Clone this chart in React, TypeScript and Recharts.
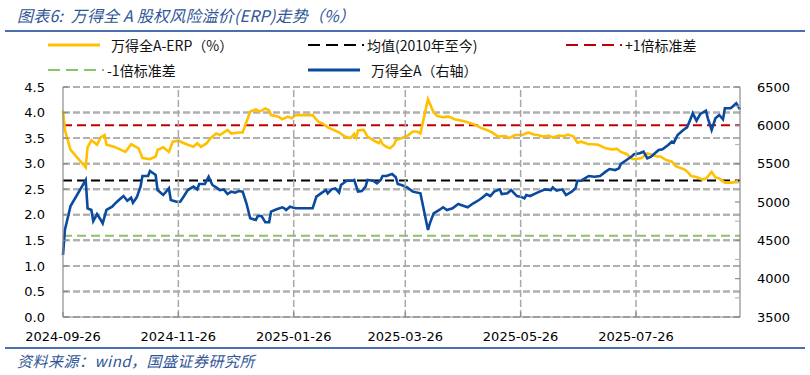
import React from "react"
import { LineChart, Line, XAxis, YAxis, CartesianGrid, ReferenceLine } from "recharts"

// day = calendar days since 2024-09-26 (trading days only)
const erpDays = [0, 1, 4, 12, 13, 15, 18, 20, 22, 23, 27, 29, 33, 36, 40, 42, 46, 49, 50, 53, 56, 58, 61, 64, 66, 69, 71, 73, 76, 78, 81, 83, 87, 89, 93, 95, 99, 102, 104, 107, 109, 110, 114, 116, 119, 121, 123, 132, 135, 138, 140, 143, 146, 149, 152, 154, 155, 156, 159, 161, 164, 167, 168, 169, 171, 173, 175, 176, 179, 182, 185, 187, 189, 193, 196, 198, 201, 204, 207, 211, 214, 218, 221, 224, 227, 230, 234, 236, 239, 243, 246, 249, 251, 254, 257, 259, 262, 265, 267, 270, 272, 274, 278, 280, 283, 287, 290, 293, 295, 298, 301, 303, 306, 309, 311, 314, 316, 319, 322, 324, 327, 329, 331, 332, 335, 338, 340, 343, 345, 347, 350, 354, 357]
const erpValues = [4.04, 3.66, 3.27, 2.93, 3.32, 3.46, 3.37, 3.52, 3.56, 3.37, 3.33, 3.3, 3.23, 3.38, 3.3, 3.11, 3.09, 3.14, 3.27, 3.32, 3.23, 3.43, 3.45, 3.4, 3.37, 3.33, 3.4, 3.33, 3.4, 3.5, 3.59, 3.56, 3.66, 3.59, 3.61, 3.61, 4.02, 4.06, 4.02, 4.08, 4.04, 3.95, 3.92, 3.87, 3.92, 3.89, 3.95, 3.95, 3.82, 3.77, 3.71, 3.66, 3.61, 3.53, 3.5, 3.58, 3.51, 3.65, 3.66, 3.53, 3.46, 3.4, 3.46, 3.38, 3.33, 3.3, 3.37, 3.46, 3.5, 3.54, 3.63, 3.63, 3.59, 4.26, 4.0, 3.93, 3.91, 3.92, 3.87, 3.84, 3.81, 3.76, 3.7, 3.66, 3.61, 3.53, 3.54, 3.5, 3.56, 3.56, 3.61, 3.57, 3.56, 3.53, 3.55, 3.51, 3.55, 3.54, 3.57, 3.53, 3.41, 3.43, 3.38, 3.38, 3.37, 3.3, 3.28, 3.29, 3.23, 3.19, 3.09, 3.09, 3.11, 3.2, 3.18, 3.14, 3.14, 3.07, 3.04, 2.95, 2.91, 2.88, 2.81, 2.76, 2.74, 2.69, 2.71, 2.84, 2.73, 2.71, 2.63, 2.63, 2.66]

const idxDays = [0, 1, 4, 12, 13, 15, 16, 18, 20, 21, 23, 26, 28, 30, 32, 34, 36, 37, 39, 41, 42, 45, 46, 49, 50, 53, 56, 57, 60, 62, 64, 66, 69, 71, 72, 75, 77, 79, 81, 83, 85, 87, 89, 91, 93, 95, 97, 99, 102, 103, 105, 107, 109, 110, 113, 116, 117, 118, 120, 123, 132, 134, 137, 139, 140, 142, 144, 146, 147, 150, 153, 154, 156, 158, 160, 161, 164, 166, 168, 169, 171, 174, 176, 177, 179, 182, 185, 189, 193, 194, 196, 199, 201, 203, 206, 209, 212, 214, 217, 220, 222, 224, 226, 228, 231, 232, 235, 237, 240, 242, 244, 245, 247, 250, 252, 255, 258, 259, 261, 264, 266, 269, 271, 272, 274, 276, 278, 281, 284, 287, 289, 292, 294, 295, 298, 301, 302, 305, 307, 309, 311, 313, 315, 317, 320, 322, 323, 325, 328, 330, 332, 333, 335, 337, 340, 341, 343, 345, 347, 349, 350, 353, 354, 356, 358]
const idxValues = [4309, 4635, 4948, 5287, 4918, 4896, 4752, 4843, 4765, 4722, 4896, 4939, 4991, 5035, 5078, 5017, 5056, 4991, 5061, 5200, 5339, 5339, 5404, 5352, 5156, 5091, 5178, 5026, 5004, 5004, 5078, 5156, 5200, 5165, 5235, 5235, 5330, 5222, 5191, 5156, 5165, 5104, 5135, 5122, 5143, 5135, 4983, 4787, 4765, 4817, 4817, 4735, 4735, 4874, 4905, 4931, 4918, 4896, 4939, 4918, 4918, 5070, 5122, 5156, 5113, 5165, 5178, 5122, 5222, 5278, 5278, 5287, 5135, 5143, 5200, 5287, 5278, 5243, 5287, 5339, 5339, 5365, 5322, 5235, 5222, 5191, 5135, 5113, 4635, 4722, 4852, 4896, 4931, 4896, 4918, 4974, 4948, 4931, 4983, 5026, 5061, 5104, 5078, 5135, 5165, 5104, 5113, 5156, 5078, 5070, 5048, 5091, 5078, 5113, 5135, 5165, 5156, 5191, 5148, 5165, 5091, 5135, 5178, 5278, 5278, 5309, 5339, 5330, 5339, 5396, 5430, 5417, 5439, 5496, 5548, 5600, 5622, 5635, 5656, 5570, 5591, 5635, 5678, 5687, 5743, 5787, 5774, 5874, 5939, 5974, 6091, 6157, 6061, 6148, 6191, 6091, 5939, 6091, 6135, 6078, 6222, 6222, 6243, 6287, 6209]

const erpMean = 2.67
const erpPlus1 = 3.75
const erpMinus1 = 1.59

const tickLabels = ["2024-09-26", "2024-11-26", "2025-01-26", "2025-03-26", "2025-05-26", "2025-07-26"]
const lastDate = "2025-09-19"
const leftTicks = [0, 0.5, 1, 1.5, 2, 2.5, 3, 3.5, 4, 4.5]
const rightTicks = [3500, 3750, 4000, 4250, 4500, 4750, 5000, 5250, 5500, 5750, 6000, 6250, 6500]

const BASE = Date.UTC(2024, 8, 26)
const dayOf = (s: string) => {
  const [y, m, d] = s.split("-").map(Number)
  return Math.round((Date.UTC(y, m - 1, d) - BASE) / 86400000)
}
const tickDays = tickLabels.map(dayOf)

type Row = { day: number; erp?: number; idx?: number }
const rowMap = new Map<number, Row>()
erpDays.forEach((d, i) => rowMap.set(d, { ...(rowMap.get(d) || { day: d }), erp: erpValues[i] }))
idxDays.forEach((d, i) => rowMap.set(d, { ...(rowMap.get(d) || { day: d }), idx: idxValues[i] }))
const data = [...rowMap.values()].sort((a, b) => a.day - b.day)

// layout
const W = 810
const H = 375
const MARGIN = { top: 87, right: 15, bottom: 28, left: 23 }
const LEFT_W = 40
const RIGHT_W = 55
const X_H = 30
const PLOT_H = H - MARGIN.top - MARGIN.bottom - X_H

const AXIS = "#8c8c8c"
const GRID = "#a8a8a8"
const TICK_FONT = { fontFamily: "'DejaVu Sans', sans-serif", fontSize: 13, fill: "#000" }
const CJK = "'Noto Sans CJK SC', 'Noto Sans', sans-serif"
const BLUE_TXT = "#2F5597"

const LeftTick = (p: any) => {
  const v = Number(p.payload.value)
  const ax = p.x + 18
  return (
    <g>
      <path d={`M${ax},${p.y}H${ax + 5}`} fill="none" stroke={AXIS} strokeWidth={1.2} />
      <text x={p.x} y={p.y} dy="0.355em" textAnchor="end" {...TICK_FONT}>
        {v.toFixed(1)}
      </text>
    </g>
  )
}

const RightTick = (p: any) => {
  const v = Number(p.payload.value)
  const major = v % 500 === 0
  const ax = p.x - 17
  return (
    <g>
      <path d={`M${ax - 5},${p.y}H${ax}`} fill="none" stroke={major ? AXIS : "#b5b5b5"} strokeWidth={1.2} />
      {major && (
        <text x={p.x} y={p.y} dy="0.355em" textAnchor="start" {...TICK_FONT}>
          {v}
        </text>
      )}
    </g>
  )
}

// date ticks also carry the vertical dashed grid
const BottomTick = (p: any) => {
  const d = Number(p.payload.value)
  const i = tickDays.indexOf(d)
  const ay = p.y - 15
  return (
    <g>
      {d > 0 && (
        <path d={`M${p.x},${ay}V${ay - PLOT_H}`} fill="none" stroke={GRID} strokeWidth={1.5} strokeDasharray="7 3" />
      )}
      <path d={`M${p.x},${ay}V${ay - 5}`} fill="none" stroke={AXIS} strokeWidth={1.2} />
      <text x={p.x} y={p.y} dy="0.71em" textAnchor="middle" {...TICK_FONT}>
        {i >= 0 ? tickLabels[i] : ""}
      </text>
    </g>
  )
}

const textNoTrim: any = { textSpacingTrim: "space-all" }

function LegendItem({ x, y, color, dash, label }: { x: number; y: number; color: string; dash?: boolean; label: string }) {
  return (
    <div style={{ position: "absolute", left: x, top: y - 10, height: 20, display: "flex", alignItems: "center" }}>
      <svg width={56} height={6} style={{ display: "block" }}>
        <line x1={0} x2={dash ? 56 : 52} y1={3} y2={3} stroke={color} strokeWidth={dash ? 2 : 3} strokeDasharray={dash ? "12 6" : undefined} />
      </svg>
      <span style={{ ...textNoTrim, marginLeft: dash ? 3 : 7, fontFamily: CJK, fontSize: 14, color: "#111", whiteSpace: "nowrap" }}>{label}</span>
    </div>
  )
}

export default function App() {
  return (
    <div style={{ position: "absolute", left: 0, top: 0, width: W, height: H, background: "#fff", overflow: "hidden" }}>
      <div
        style={{
          ...textNoTrim,
          position: "absolute",
          left: 17,
          top: 6,
          lineHeight: "18px",
          fontFamily: CJK,
          fontSize: 16,
          letterSpacing: 0.2,
          fontStyle: "italic",
          color: BLUE_TXT,
          whiteSpace: "nowrap",
        }}
      >
        图表6:&nbsp;&nbsp;万得全 A 股权风险溢价(ERP)走势（%）
      </div>
      <div style={{ position: "absolute", left: 5, width: 800, top: 30, height: 1.5, background: "#4C6FB0" }} />

      <LegendItem x={48} y={45} color="#FFC000" label="万得全A-ERP（%）" />
      <LegendItem x={308} y={45} color="#000" dash label="均值(2010年至今)" />
      <LegendItem x={566} y={45} color="#C00000" dash label="+1倍标准差" />
      <LegendItem x={48} y={70} color="#8CC26A" dash label="-1倍标准差" />
      <LegendItem x={308} y={70} color="#0A4A9F" label="万得全A（右轴）" />

      <div style={{ position: "absolute", left: 0, top: 0 }}>
        <LineChart width={W} height={H} data={data} margin={MARGIN}>
          <CartesianGrid yAxisId="left" vertical={false} stroke="#b0b0b0" strokeWidth={2} strokeDasharray="7 3" />
          <XAxis
            dataKey="day"
            type="number"
            domain={[0, dayOf(lastDate)]}
            ticks={tickDays}
            interval={0}
            height={X_H}
            tickSize={0}
            tickMargin={15}
            tickLine={false}
            axisLine={{ stroke: AXIS, strokeWidth: 1.2 }}
            tick={BottomTick}
          />
          <YAxis
            yAxisId="left"
            domain={[0, 4.5]}
            ticks={leftTicks}
            interval={0}
            width={LEFT_W}
            tickSize={0}
            tickMargin={18}
            tickLine={false}
            axisLine={{ stroke: AXIS, strokeWidth: 1.2 }}
            tick={LeftTick}
          />
          <YAxis
            yAxisId="right"
            orientation="right"
            domain={[3500, 6500]}
            ticks={rightTicks}
            interval={0}
            width={RIGHT_W}
            tickSize={0}
            tickMargin={17}
            tickLine={false}
            axisLine={{ stroke: AXIS, strokeWidth: 1.2 }}
            tick={RightTick}
          />
          {/* horizontal dashed grid at the left-axis ticks */}
          {leftTicks
            .filter((v) => v > 0)
            .map((v) => (
              <ReferenceLine key={"g" + v} yAxisId="left" y={v} stroke="#b0b0b0" strokeWidth={2} strokeDasharray="7 3" />
            ))}
          <ReferenceLine yAxisId="left" y={erpPlus1} stroke="#C00000" strokeWidth={2} strokeDasharray="9 5" />
          <ReferenceLine yAxisId="left" y={erpMean} stroke="#000" strokeWidth={2} strokeDasharray="9 5" />
          <ReferenceLine yAxisId="left" y={erpMinus1} stroke="#8CC26A" strokeWidth={2} strokeDasharray="9 5" />
          <Line
            yAxisId="left"
            dataKey="erp"
            stroke="#FFC000"
            strokeWidth={2.6}
            dot={false}
            connectNulls
            type="linear"
            isAnimationActive={false}
          />
          <Line
            yAxisId="right"
            dataKey="idx"
            stroke="#0A4A9F"
            strokeWidth={2.6}
            dot={false}
            connectNulls
            type="linear"
            isAnimationActive={false}
          />
        </LineChart>
      </div>

      <div style={{ position: "absolute", left: 5, width: 800, top: 347, height: 1.5, background: "#4C6FB0" }} />
      <div
        style={{
          ...textNoTrim,
          position: "absolute",
          left: 17,
          top: 352,
          lineHeight: "18px",
          fontFamily: CJK,
          fontSize: 15,
          letterSpacing: 0.5,
          fontStyle: "italic",
          color: BLUE_TXT,
          whiteSpace: "nowrap",
        }}
      >
        资料来源：wind，国盛证券研究所
      </div>
    </div>
  )
}
